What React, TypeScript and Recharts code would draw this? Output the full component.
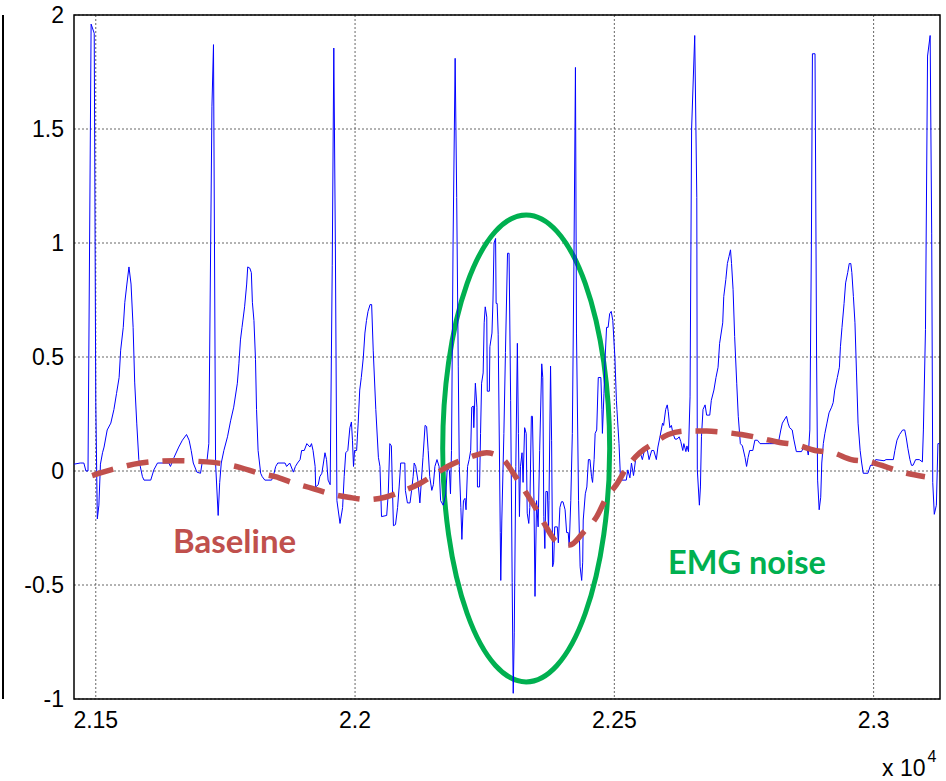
import React from "react";
import {
  LineChart,
  Line,
  XAxis,
  YAxis,
  CartesianGrid,
  ReferenceArea,
} from "recharts";

// sample index, amplitude
const ecgSamples: [number, number][] = [
  [21458, 0.03], [21470, 0.035], [21477, 0.035], [21481, 0.0], [21485, 0.0],
  [21491, 1.96], [21497, 1.92], [21500, 0.3], [21503, -0.21], [21506, -0.15],
  [21509, 0.03], [21513, 0.08], [21516, 0.105], [21522, 0.18], [21529, 0.21],
  [21535, 0.27], [21540, 0.34], [21545, 0.41], [21548, 0.53], [21553, 0.63],
  [21556, 0.74], [21560, 0.82], [21564, 0.895], [21568, 0.82], [21572, 0.63],
  [21575, 0.39], [21579, 0.21], [21583, 0.05], [21590, -0.025], [21593, -0.04],
  [21606, -0.04], [21612, 0.005], [21619, 0.035], [21641, 0.035], [21644, 0.02],
  [21651, 0.06], [21660, 0.105], [21667, 0.135], [21675, 0.16], [21680, 0.135],
  [21684, 0.09], [21688, 0.035], [21695, -0.005], [21702, -0.01], [21705, 0.035],
  [21714, 0.035], [21718, 0.12], [21724, 1.6], [21727, 1.87], [21731, 0.035],
  [21736, -0.195], [21739, -0.05], [21742, 0.035], [21747, 0.09], [21754, 0.15],
  [21760, 0.22], [21766, 0.28], [21773, 0.385], [21776, 0.47], [21779, 0.575],
  [21782, 0.63], [21787, 0.72], [21791, 0.82], [21793, 0.895], [21797, 0.89],
  [21800, 0.87], [21802, 0.74], [21805, 0.66], [21808, 0.49], [21810, 0.27],
  [21813, 0.09], [21818, -0.01], [21821, -0.025], [21826, -0.04], [21839, -0.04],
  [21842, -0.025], [21847, 0.02], [21851, 0.035], [21865, 0.035], [21868, 0.02],
  [21874, 0.035], [21881, -0.005], [21885, 0.02], [21889, 0.035], [21894, 0.05],
  [21897, 0.09], [21902, 0.09], [21907, 0.12], [21913, 0.105], [21916, 0.12],
  [21919, 0.09], [21923, 0.02], [21924, -0.07], [21929, -0.06], [21932, -0.025],
  [21936, -0.01], [21939, 0.035], [21942, 0.08], [21945, 0.05], [21948, -0.04],
  [21952, -0.06], [21956, 0.9], [21959, 1.855], [21962, 1.0], [21965, -0.13],
  [21971, -0.23], [21976, -0.16], [21979, -0.025], [21982, 0.08], [21986, 0.09],
  [21990, 0.19], [21993, 0.215], [21995, 0.135], [21997, 0.02], [21999, 0.09],
  [22003, 0.09], [22006, 0.21], [22009, 0.355], [22012, 0.41], [22016, 0.5],
  [22019, 0.605], [22022, 0.66], [22025, 0.7], [22029, 0.73], [22032, 0.73],
  [22035, 0.53], [22040, 0.27], [22045, 0.06], [22048, 0.02], [22051, -0.2],
  [22061, -0.195], [22064, -0.1], [22067, 0.12], [22070, 0.11], [22072, -0.07],
  [22074, -0.24], [22078, -0.235], [22082, -0.16], [22085, -0.07], [22088, 0.035],
  [22096, 0.035], [22097, -0.085], [22101, -0.14], [22106, -0.14], [22109, -0.085],
  [22112, -0.025], [22114, 0.035], [22117, 0.02], [22121, -0.04], [22125, -0.14],
  [22128, -0.04], [22131, 0.06], [22135, 0.2], [22138, 0.195], [22141, 0.09],
  [22144, -0.025], [22148, -0.085], [22151, -0.06], [22154, 0.02], [22158, 0.05],
  [22162, 0.02], [22165, -0.13], [22170, -0.15], [22175, -0.1], [22178, 0.02],
  [22182, 0.0], [22184, -0.1], [22186, 0.09], [22189, 1.0], [22193, 1.81],
  [22196, 1.2], [22199, 0.46], [22201, 0.02], [22204, -0.16], [22206, -0.3],
  [22209, -0.13], [22212, -0.12], [22214, -0.17], [22217, 0.02], [22220, 0.05],
  [22223, 0.09], [22225, 0.28], [22228, 0.285], [22229, 0.19], [22232, 0.385],
  [22235, 0.28], [22236, -0.07], [22240, -0.07], [22242, 0.165], [22244, 0.385],
  [22247, 0.43], [22249, 0.65], [22251, 0.72], [22254, 0.675], [22255, 0.35],
  [22259, 0.35], [22260, 0.545], [22264, 0.605], [22266, 0.75], [22268, 1.0],
  [22271, 1.02], [22272, 0.735], [22274, 0.735], [22276, 0.6], [22280, -0.27],
  [22281, -0.48], [22283, -0.215], [22287, 0.165], [22290, 0.52], [22294, 0.955],
  [22297, 0.955], [22300, 0.31], [22303, -0.49], [22305, -0.975], [22307, -0.71],
  [22310, 0.02], [22313, 0.56], [22315, 0.165], [22317, -0.2], [22319, 0.02],
  [22322, 0.08], [22324, -0.05], [22327, 0.19], [22330, 0.165], [22332, -0.185],
  [22335, -0.23], [22337, -0.16], [22340, 0.24], [22342, 0.24], [22345, -0.13],
  [22347, -0.55], [22350, -0.13], [22353, -0.245], [22356, 0.09], [22360, 0.47],
  [22362, 0.41], [22364, -0.2], [22366, -0.34], [22368, -0.09], [22371, -0.09],
  [22373, -0.27], [22374, -0.13], [22377, 0.46], [22379, 0.135], [22381, -0.42],
  [22383, -0.4], [22385, -0.245], [22390, -0.245], [22392, -0.315], [22395, -0.16],
  [22398, -0.135], [22401, -0.135], [22405, -0.17], [22408, -0.27], [22411, -0.27],
  [22413, -0.33], [22416, -0.13], [22419, 0.165], [22422, 0.895], [22425, 1.77],
  [22427, 0.605], [22431, -0.13], [22434, -0.42], [22437, -0.48], [22439, -0.4],
  [22440, -0.215], [22444, -0.1], [22447, -0.07], [22450, 0.05], [22453, 0.05],
  [22456, -0.025], [22458, -0.05], [22461, 0.05], [22463, 0.165], [22466, 0.18],
  [22469, 0.41], [22474, 0.41], [22476, 0.27], [22477, 0.165], [22480, 0.34],
  [22482, 0.485], [22485, 0.63], [22488, 0.63], [22491, 0.69], [22494, 0.7],
  [22497, 0.66], [22501, 0.5], [22504, 0.31], [22505, 0.27], [22509, 0.12],
  [22512, -0.04], [22523, -0.04], [22526, 0.005], [22530, -0.03], [22533, 0.035],
  [22537, -0.02], [22541, 0.05], [22546, 0.08], [22550, 0.08], [22554, 0.05],
  [22559, 0.1], [22563, 0.1], [22567, 0.05], [22572, 0.09], [22576, 0.09],
  [22581, 0.05], [22584, 0.105], [22588, 0.15], [22593, 0.21], [22595, 0.2],
  [22599, 0.27], [22602, 0.29], [22604, 0.26], [22607, 0.19], [22610, 0.2],
  [22613, 0.165], [22617, 0.14], [22621, 0.14], [22625, 0.15], [22628, 0.13],
  [22632, 0.09], [22634, 0.12], [22638, 0.085], [22640, 0.11], [22643, 0.085],
  [22646, 0.325], [22649, 1.5], [22655, 1.91], [22659, 1.2], [22660, 0.005],
  [22664, -0.15], [22666, -0.07], [22668, 0.15], [22671, 0.27], [22675, 0.29],
  [22678, 0.245], [22684, 0.245], [22687, 0.31], [22692, 0.355], [22696, 0.41],
  [22700, 0.455], [22703, 0.56], [22709, 0.65], [22711, 0.765], [22715, 0.84],
  [22718, 0.91], [22721, 0.94], [22724, 0.97], [22726, 0.91], [22729, 0.795],
  [22732, 0.59], [22736, 0.385], [22739, 0.24], [22743, 0.12], [22747, 0.11],
  [22752, 0.06], [22755, 0.02], [22758, 0.06], [22761, 0.09], [22767, 0.09],
  [22771, 0.135], [22776, 0.135], [22781, 0.12], [22800, 0.12], [22816, 0.12],
  [22821, 0.18], [22824, 0.21], [22832, 0.24], [22835, 0.21], [22838, 0.19],
  [22843, 0.18], [22846, 0.14], [22851, 0.085], [22861, 0.085], [22865, 0.105],
  [22871, 0.105], [22874, 0.07], [22877, 0.18], [22880, 1.0], [22882, 1.83],
  [22887, 1.83], [22890, 0.5], [22892, -0.04], [22895, -0.17], [22898, -0.115],
  [22900, 0.035], [22903, 0.12], [22906, 0.165], [22910, 0.21], [22914, 0.255],
  [22919, 0.28], [22922, 0.3], [22925, 0.355], [22930, 0.41], [22934, 0.455],
  [22936, 0.545], [22939, 0.63], [22943, 0.735], [22946, 0.825], [22950, 0.87],
  [22953, 0.91], [22956, 0.91], [22958, 0.87], [22961, 0.765], [22964, 0.65],
  [22967, 0.43], [22970, 0.21], [22974, 0.09], [22977, 0.035], [22980, -0.01],
  [22989, -0.01], [22994, 0.025], [22999, 0.025], [23004, 0.05], [23020, 0.045],
  [23024, 0.05], [23038, 0.05], [23041, 0.09], [23045, 0.135], [23050, 0.16],
  [23056, 0.18], [23060, 0.18], [23063, 0.145], [23066, 0.1], [23070, 0.05],
  [23073, 0.025], [23076, 0.025], [23081, 0.05], [23088, 0.05], [23094, 0.04],
  [23096, 0.18], [23100, 0.62], [23104, 1.82], [23109, 1.91], [23112, 1.04],
  [23114, -0.05], [23117, -0.19], [23121, -0.15], [23124, 0.12], [23127, 0.12],
];

// baseline wander (dashed)
const baselineSamples: [number, number][] = [
  [21493, -0.02], [21529, 0.005], [21587, 0.035], [21651, 0.045], [21714, 0.04],
  [21779, 0.015], [21815, -0.01], [21846, -0.025], [21884, -0.055], [21916, -0.075],
  [21952, -0.1], [21987, -0.115], [22022, -0.125], [22058, -0.115], [22090, -0.09],
  [22125, -0.055], [22157, -0.01], [22183, 0.025], [22221, 0.06], [22254, 0.08],
  [22286, 0.05], [22308, -0.02], [22331, -0.1], [22350, -0.17], [22366, -0.235],
  [22389, -0.31], [22414, -0.325], [22440, -0.27], [22466, -0.2], [22485, -0.115],
  [22504, -0.06], [22524, 0.015], [22549, 0.08], [22575, 0.12], [22604, 0.16],
  [22639, 0.175], [22678, 0.175], [22710, 0.17], [22745, 0.16], [22780, 0.145],
  [22819, 0.125], [22851, 0.115], [22887, 0.09], [22922, 0.08], [22957, 0.05],
  [22993, 0.04], [23028, 0.015], [23064, -0.01], [23099, -0.025],
];

const xTicks = [21500, 22000, 22500, 23000];
const yTicks = [-1, -0.5, 0, 0.5, 1, 1.5, 2];
const xDomain: [number, number] = [21458, 23128];
const yDomain: [number, number] = [-1, 2];

// region circled as EMG noise
const emgBox = { x1: 22169, x2: 22491, y1: -0.925, y2: 1.123 };

const ecgData = ecgSamples.map(([t, v]) => ({ t, v }));
const baselineData = baselineSamples.map(([t, v]) => ({ t, v }));

const tickStyle = { fill: "#000", fontSize: 23, fontFamily: "'Liberation Sans', Arial, sans-serif" };
const innerTick = { stroke: "#000", strokeWidth: 1.5 };

const App = () => {
  return (
    <div style={{ position: "absolute", left: 0, top: 0, width: 946, height: 781, background: "#fff", overflow: "hidden" }}>
      {/* edge of the neighbouring panel */}
      <div style={{ position: "absolute", left: 2, top: 15, width: 2, height: 684, background: "#000" }} />

      <LineChart width={946} height={781} margin={{ top: 15, right: 6, bottom: 42, left: 14 }}>
        <CartesianGrid stroke="#666" strokeDasharray="2 2" horizontalValues={yTicks} verticalValues={xTicks} />
        <XAxis
          dataKey="t"
          type="number"
          domain={xDomain}
          ticks={xTicks}
          allowDataOverflow
          height={40}
          axisLine={false}
          tickLine={false}
          tickMargin={7}
          tick={tickStyle}
          tickFormatter={(v: number) => String(v / 10000)}
        />
        <YAxis
          type="number"
          domain={yDomain}
          ticks={yTicks}
          allowDataOverflow
          width={60}
          axisLine={false}
          tickLine={false}
          tickMargin={4}
          tick={tickStyle}
        />
        {/* inward tick marks on all four sides */}
        <XAxis xAxisId="bIn" type="number" domain={xDomain} ticks={xTicks} allowDataOverflow orientation="bottom" mirror axisLine={false} tick={false} tickLine={innerTick} tickSize={6} />
        <XAxis xAxisId="tIn" type="number" domain={xDomain} ticks={xTicks} allowDataOverflow orientation="top" mirror axisLine={false} tick={false} tickLine={innerTick} tickSize={6} />
        <YAxis yAxisId="lIn" type="number" domain={yDomain} ticks={yTicks} allowDataOverflow orientation="left" mirror axisLine={false} tick={false} tickLine={innerTick} tickSize={6} />
        <YAxis yAxisId="rIn" type="number" domain={yDomain} ticks={yTicks} allowDataOverflow orientation="right" mirror axisLine={false} tick={false} tickLine={innerTick} tickSize={6} />
        <Line
          data={ecgData}
          dataKey="v"
          type="linear"
          stroke="#0000ff"
          strokeWidth={1}
          dot={false}
          isAnimationActive={false}
        />
        <Line
          data={baselineData}
          dataKey="v"
          type="monotone"
          stroke="#c0504d"
          strokeWidth={5.5}
          strokeDasharray="22 14"
          dot={false}
          isAnimationActive={false}
        />
        <ReferenceArea
          x1={emgBox.x1}
          x2={emgBox.x2}
          y1={emgBox.y1}
          y2={emgBox.y2}
          shape={(p: any) => (
            <ellipse
              cx={p.x + p.width / 2}
              cy={p.y + p.height / 2}
              rx={p.width / 2}
              ry={p.height / 2}
              fill="none"
              stroke="#00b050"
              strokeWidth={5}
            />
          )}
        />
        <ReferenceArea x1={xDomain[0]} x2={xDomain[1]} y1={yDomain[0]} y2={yDomain[1]} fill="none" fillOpacity={0} stroke="#000" strokeWidth={1.5} />
      </LineChart>

      <div style={{ position: "absolute", left: 173, top: 524, fontFamily: "Lato, sans-serif", fontWeight: 700, fontSize: 33, lineHeight: 1, color: "#c0504d", whiteSpace: "nowrap" }}>
        Baseline
      </div>
      <div style={{ position: "absolute", left: 668, top: 546, fontFamily: "Lato, sans-serif", fontWeight: 700, fontSize: 32.5, lineHeight: 1, color: "#00b050", whiteSpace: "nowrap" }}>
        EMG noise
      </div>
      <div style={{ position: "absolute", left: 882, top: 757, fontFamily: "'Liberation Sans', Arial, sans-serif", fontSize: 23, lineHeight: 1, color: "#000", whiteSpace: "nowrap" }}>
        x 10<span style={{ position: "relative", top: -14, fontSize: 16, marginLeft: 2 }}>4</span>
      </div>
    </div>
  );
};

export default App;
